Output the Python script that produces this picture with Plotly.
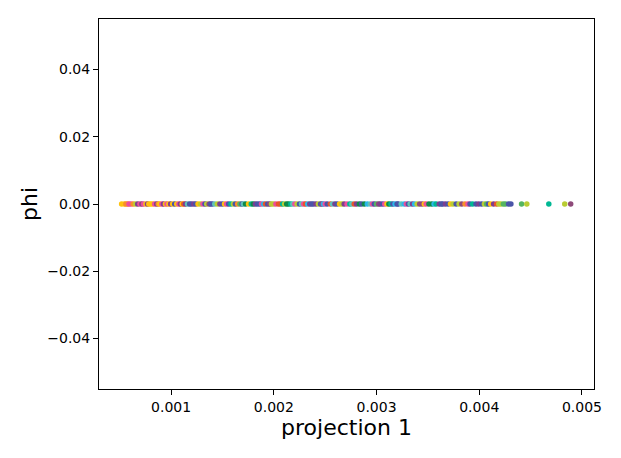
import plotly.graph_objects as go

# projection 1 values of every point (left to right)
proj1 = [
    0.000518, 0.000545, 0.000560, 0.000577, 0.000590, 0.000609, 0.000630, 0.000654, 0.000675, 0.000696,
    0.000715, 0.000732, 0.000755, 0.000770, 0.000783, 0.000800, 0.000819, 0.000840, 0.000860, 0.000875,
    0.000890, 0.000910, 0.000926, 0.000945, 0.000960, 0.000978, 0.000995, 0.001015, 0.001035, 0.001055,
    0.001075, 0.001090, 0.001108, 0.001123, 0.001140, 0.001160, 0.001180, 0.001198, 0.001220, 0.001240,
    0.001262, 0.001288, 0.001310, 0.001330, 0.001347, 0.001370, 0.001385, 0.001402, 0.001425, 0.001450,
    0.001475, 0.001499, 0.001520, 0.001540, 0.001560, 0.001582, 0.001606, 0.001625, 0.001648, 0.001670,
    0.001690, 0.001703, 0.001725, 0.001754, 0.001780, 0.001800, 0.001820, 0.001840, 0.001861, 0.001880,
    0.001900, 0.001919, 0.001940, 0.001960, 0.001977, 0.001997, 0.002020, 0.002045, 0.002065, 0.002085,
    0.002105, 0.002125, 0.002143, 0.002165, 0.002185, 0.002205, 0.002227, 0.002250, 0.002270, 0.002290,
    0.002308, 0.002330, 0.002350, 0.002368, 0.002385, 0.002410, 0.002434, 0.002455, 0.002470, 0.002483,
    0.002500, 0.002520, 0.002550, 0.002570, 0.002595, 0.002616, 0.002640, 0.002664, 0.002685, 0.002713,
    0.002740, 0.002760, 0.002783, 0.002805, 0.002832, 0.002855, 0.002881, 0.002910, 0.002939, 0.002960,
    0.002978, 0.003000, 0.003020, 0.003036, 0.003060, 0.003080, 0.003101, 0.003120, 0.003140, 0.003159,
    0.003180, 0.003200, 0.003211, 0.003240, 0.003269, 0.003290, 0.003310, 0.003327, 0.003350, 0.003370,
    0.003395, 0.003420, 0.003444, 0.003465, 0.003483, 0.003510, 0.003538, 0.003560, 0.003580, 0.003610,
    0.003630, 0.003645, 0.003670, 0.003696, 0.003720, 0.003745, 0.003775, 0.003803, 0.003830, 0.003861,
    0.003890, 0.003910, 0.003936, 0.003968, 0.003995, 0.004023, 0.004050, 0.004072, 0.004090, 0.004111,
    0.004140, 0.004169, 0.004190, 0.004211, 0.004235, 0.004256, 0.004285, 0.004308, 0.004412, 0.004463,
    0.004677, 0.004832, 0.004890,
]

# class label of every point, same order as proj1
group = [
    "am", "am", "or", "or", "pk", "pk", "or", "li", "pu", "pk",
    "mv", "pk", "am", "pu", "am", "am", "am", "pk", "pu", "or",
    "am", "pk", "pu", "am", "pk", "am", "pu", "am", "in", "am",
    "pk", "pu", "am", "do", "pu", "lt", "in", "in", "pu", "in",
    "am", "li", "pk", "in", "li", "mv", "in", "in", "lt", "li",
    "pu", "in", "am", "pk", "in", "te", "li", "in", "or", "lg",
    "in", "lt", "gr", "am", "te", "gr", "pu", "in", "in", "pk",
    "lb", "do", "in", "mv", "li", "li", "pk", "do", "do", "te",
    "li", "gr", "gr", "te", "lt", "pk", "li", "in", "lt", "pk",
    "do", "lb", "pu", "in", "in", "pu", "li", "in", "mv", "lb",
    "pk", "in", "do", "lt", "pu", "in", "am", "li", "pu", "pk",
    "te", "lt", "do", "pu", "gr", "in", "gr", "lb", "lt", "pk",
    "in", "lg", "mv", "pu", "in", "pk", "am", "gr", "te", "in",
    "lb", "in", "in", "lt", "lb", "pk", "in", "lt", "pu", "lb",
    "li", "mv", "mv", "am", "pk", "gr", "gr", "lb", "te", "pu",
    "in", "in", "pu", "in", "am", "li", "in", "li", "mv", "or",
    "pk", "in", "te", "in", "pu", "in", "li", "lg", "in", "am",
    "pu", "do", "li", "li", "lg", "lg", "in", "in", "lg", "li",
    "te", "li", "mv",
]

# phi is zero for every point
phi = [0.0] * len(proj1)

palette = {
    "am": "#FFC20E", "or": "#F98E2B", "do": "#E8562A", "pk": "#EC4E9C",
    "pu": "#7E3F8F", "mv": "#8E4A7A", "in": "#4A55A8", "lb": "#2AB8EA",
    "te": "#00B894", "lt": "#5FC4B8", "gr": "#0F8A4A", "lg": "#55B560",
    "li": "#B9CC33",
}

x_ticks = [0.001, 0.002, 0.003, 0.004, 0.005]
y_ticks = [-0.04, -0.02, 0.0, 0.02, 0.04]

fig = go.Figure()

fig.add_trace(go.Scatter(
    x=proj1, y=phi, mode="markers",
    marker=dict(size=5.5, color=[palette[g] for g in group], line=dict(width=0)),
    showlegend=False,
))

axis_style = dict(
    showline=True, linecolor="black", linewidth=1, mirror=True,
    ticks="outside", ticklen=5, tickcolor="black", tickwidth=1,
    showgrid=False, zeroline=False, tickfont=dict(size=14),
)

# the page body adds an 8px margin, so the figure is a little smaller than the window
fig.update_layout(
    width=605, height=442,
    margin=dict(l=91, r=19, t=11, b=61),
    paper_bgcolor="white", plot_bgcolor="white",
    font=dict(family="DejaVu Sans", color="black"),
    xaxis=dict(title=dict(text="projection 1", font=dict(size=22), standoff=4),
               range=[0.000298, 0.005117], tickvals=x_ticks, tickformat=".3f", **axis_style),
    yaxis=dict(title=dict(text="phi", font=dict(size=22), standoff=3),
               range=[-0.055, 0.055], tickvals=y_ticks, tickformat=".2f", **axis_style),
)

fig.write_html("out.html")
